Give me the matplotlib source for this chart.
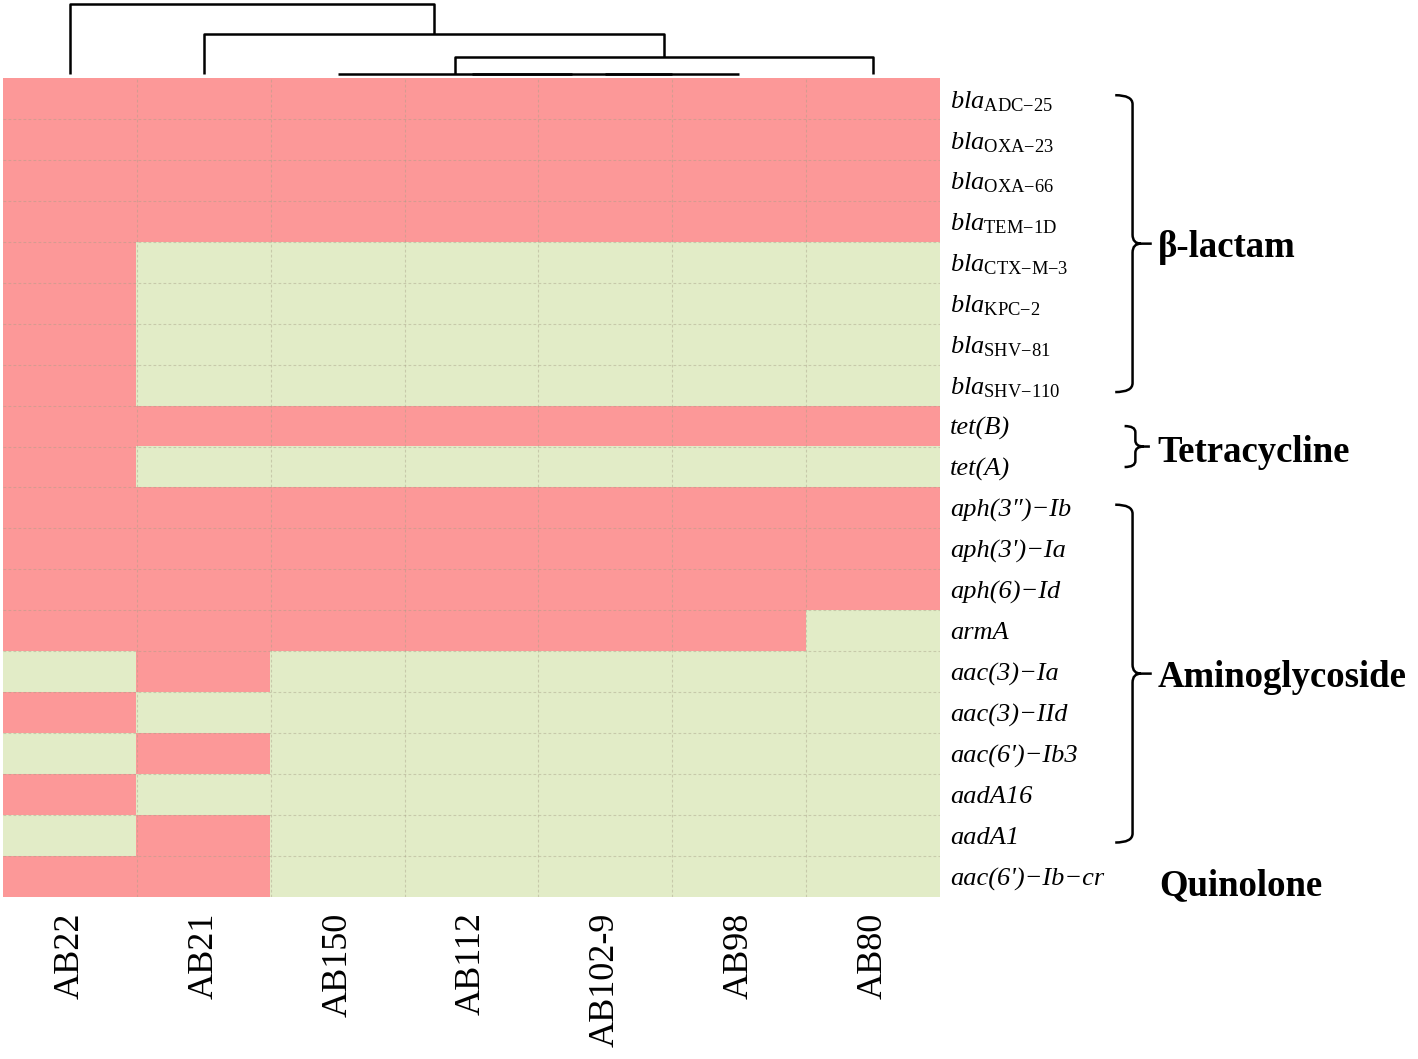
import numpy as np
import matplotlib
matplotlib.use('Agg')
import matplotlib.pyplot as plt
from matplotlib.colors import ListedColormap
from matplotlib.path import Path
from matplotlib.patches import PathPatch
from matplotlib.transforms import blended_transform_factory

plt.rcParams['font.family'] = ['Liberation Serif', 'DejaVu Serif']
plt.rcParams['mathtext.fontset'] = 'custom'
plt.rcParams['mathtext.rm'] = 'Liberation Serif'
plt.rcParams['mathtext.it'] = 'Liberation Serif:italic'
plt.rcParams['mathtext.bf'] = 'Liberation Serif:bold'

# isolates, in dendrogram order
isolates = ['AB22', 'AB21', 'AB150', 'AB112', 'AB102-9', 'AB98', 'AB80']

genes = [
    r'$\mathit{bla}_{\text{ADC−25}}$',
    r'$\mathit{bla}_{\text{OXA−23}}$',
    r'$\mathit{bla}_{\text{OXA−66}}$',
    r'$\mathit{bla}_{\text{TEM−1D}}$',
    r'$\mathit{bla}_{\text{CTX−M−3}}$',
    r'$\mathit{bla}_{\text{KPC−2}}$',
    r'$\mathit{bla}_{\text{SHV−81}}$',
    r'$\mathit{bla}_{\text{SHV−110}}$',
    'tet(B)',
    'tet(A)',
    'aph(3″)−Ib',
    "aph(3')−Ia",
    'aph(6)−Id',
    'armA',
    'aac(3)−Ia',
    'aac(3)−IId',
    "aac(6')−Ib3",
    'aadA16',
    'aadA1',
    "aac(6')−Ib−cr",
]

# 1 = gene present, 0 = absent
presence = np.array([
    [1, 1, 1, 1, 1, 1, 1],
    [1, 1, 1, 1, 1, 1, 1],
    [1, 1, 1, 1, 1, 1, 1],
    [1, 1, 1, 1, 1, 1, 1],
    [1, 0, 0, 0, 0, 0, 0],
    [1, 0, 0, 0, 0, 0, 0],
    [1, 0, 0, 0, 0, 0, 0],
    [1, 0, 0, 0, 0, 0, 0],
    [1, 1, 1, 1, 1, 1, 1],
    [1, 0, 0, 0, 0, 0, 0],
    [1, 1, 1, 1, 1, 1, 1],
    [1, 1, 1, 1, 1, 1, 1],
    [1, 1, 1, 1, 1, 1, 1],
    [1, 1, 1, 1, 1, 1, 0],
    [0, 1, 0, 0, 0, 0, 0],
    [1, 0, 0, 0, 0, 0, 0],
    [0, 1, 0, 0, 0, 0, 0],
    [1, 0, 0, 0, 0, 0, 0],
    [0, 1, 0, 0, 0, 0, 0],
    [1, 1, 0, 0, 0, 0, 0],
])

# linkage: (left node, right node, height); new nodes numbered from 7
merges = [
    (4, 5, 0.0),
    (3, 7, 0.0),
    (2, 8, 0.0),
    (9, 6, 1.7),
    (1, 10, 4.0),
    (0, 11, 7.0),
]

# drug classes: (name, first row, last row, bracket?)
classes = [
    ('β-lactam', 0, 7, True),
    ('Tetracycline', 8, 9, True),
    ('Aminoglycoside', 10, 18, True),
    ('Quinolone', 19, 19, False),
]

PINK = '#FC9898'
GREEN = '#E2ECC7'

W, H = 1418, 1059
fig = plt.figure(figsize=(W / 100, H / 100), dpi=100)
ax = fig.add_axes([3 / W, 1 - 897 / H, 937 / W, 819 / H])
dax = fig.add_axes([3 / W, 1 - 78 / H, 937 / W, 78 / H])

# heatmap
ax.imshow(presence, cmap=ListedColormap([GREEN, PINK]), aspect='auto',
          interpolation='nearest', vmin=0, vmax=1)
n_rows, n_cols = presence.shape
for i in range(1, n_rows):
    ax.axhline(i - 0.5, color='#a89f88', lw=0.8, ls=(0, (2.5, 2)), alpha=0.45)
for j in range(1, n_cols):
    ax.axvline(j - 0.5, color='#a89f88', lw=0.8, ls=(0, (2.5, 2)), alpha=0.45)

for s in ax.spines.values():
    s.set_visible(False)
ax.yaxis.tick_right()
ax.set_yticks(range(n_rows))
ax.set_yticklabels(genes, fontsize=19, fontstyle='italic')
ax.set_xticks(range(n_cols))
ax.set_xticklabels(isolates, rotation=90, fontsize=26, va='top')
ax.tick_params(length=0)
ax.tick_params(axis='y', pad=7)
ax.tick_params(axis='x', pad=11)

# dendrogram
pos = {i: (float(i), 0.0) for i in range(n_cols)}
for k, (a, b, h) in enumerate(merges):
    xa, ha = pos[a]
    xb, hb = pos[b]
    dax.plot([xa, xa, xb, xb], [ha, h, h, hb], color='black', lw=1.8,
             solid_capstyle='butt')
    pos[n_cols + k] = ((xa + xb) / 2, h)
dax.set_xlim(-0.5, n_cols - 0.5)
dax.set_ylim(-0.4, 7.4)
dax.axis('off')

# brackets and class labels
tr = blended_transform_factory(ax.transAxes, ax.transData)


def brace(y0, y1, x_hook, x_stem, x_tip, r=0.22, rx=0.009):
    ym = (y0 + y1) / 2
    verts = [
        (x_hook, y0), (x_stem, y0), (x_stem, y0 + r),
        (x_stem, ym - r), (x_stem, ym), (x_stem + rx, ym),
        (x_tip, ym),
        (x_stem + rx, ym), (x_stem, ym), (x_stem, ym + r),
        (x_stem, y1 - r), (x_stem, y1), (x_hook, y1),
    ]
    codes = [Path.MOVETO, Path.CURVE3, Path.CURVE3,
             Path.LINETO, Path.CURVE3, Path.CURVE3,
             Path.LINETO,
             Path.MOVETO, Path.CURVE3, Path.CURVE3,
             Path.LINETO, Path.CURVE3, Path.CURVE3]
    ax.add_patch(PathPatch(Path(verts, codes), transform=tr, fill=False,
                           lw=1.8, color='black', clip_on=False))


for name, r0, r1, has_brace in classes:
    if has_brace:
        if r1 - r0 > 1:
            brace(r0 - 0.08, r1 + 0.17, 1.187, 1.2055, 1.226)
        else:
            brace(r0 - 0.0, r1 + 0.0, 1.197, 1.2085, 1.224, r=0.15)
        lx = 1.232
    else:
        lx = 1.234
    ax.text(lx, (r0 + r1) / 2 + (0.12 if not has_brace else 0.04), name,
            transform=tr, fontsize=26.5, fontweight='bold',
            ha='left', va='center_baseline')

fig.savefig('out.png', dpi=100)
